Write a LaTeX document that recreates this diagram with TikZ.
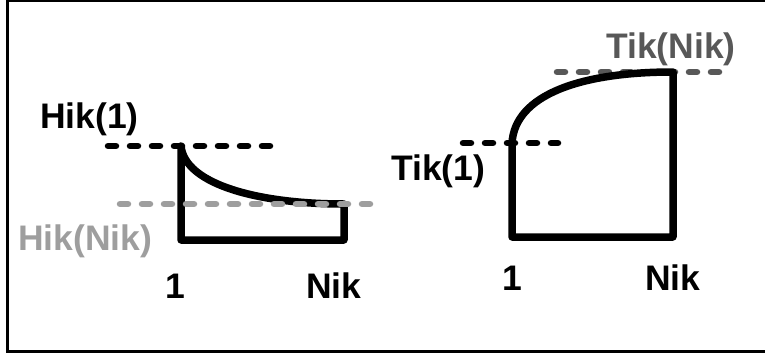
\documentclass[tikz,border=0pt]{standalone}
\usepackage{fontspec}
\setmainfont{Liberation Sans}
\definecolor{lgray}{RGB}{158,158,158}
\definecolor{dgray}{RGB}{88,88,88}
\begin{document}
\begin{tikzpicture}[x=1pt,y=-1pt,
  lbl/.style={inner sep=0pt,font=\fontsize{35.5}{42}\selectfont\bfseries},
  curvebox/.style={line width=7.5pt,line join=round,line cap=round},
  dline/.style={line width=6.5pt,line cap=round,dash pattern=on 8pt off 14pt}]
\useasboundingbox (0,0) rectangle (765,356);
% frame
\draw[line width=3pt] (7,0) -- (7,351) -- (770,351);
\draw[line width=1.5pt] (7,0.8) -- (770,0.8);

% left diagram
\coordinate (hl1) at (108,146);
\coordinate (hl2) at (272,146);
\coordinate (gl1) at (120,204);
\coordinate (gl2) at (381,204);
\coordinate (a) at (181,146);
\coordinate (b) at (181,240);
\coordinate (c) at (344,240);
\coordinate (d) at (344,204);
\draw[dline] (hl1) -- (hl2);
\draw[curvebox] (d) -- (c) -- (b) -- (a) .. controls (185,185) and (260,204) .. (d);
\draw[dline,lgray] (gl1) -- (gl2);
\node[lbl,anchor=base west] (h1) at (40,128) {Hik(1)};
\node[lbl,anchor=base west,lgray] (hn) at (18,250) {Hik(Nik)};
\node[lbl,anchor=base] (one1) at (175,298) {1};
\node[lbl,anchor=base west] (nik1) at (306,298) {Nik};

% right diagram
\coordinate (tl1) at (463,143);
\coordinate (tl2) at (558,143);
\coordinate (ul1) at (557,72);
\coordinate (ul2) at (727,72);
\coordinate (e) at (512,143);
\coordinate (f) at (512,237);
\coordinate (g) at (673,237);
\coordinate (h) at (673,72);
\draw[dline] (tl1) -- (tl2);
\draw[dline,dgray] (ul1) -- (ul2);
\draw[curvebox] (h) -- (g) -- (f) -- (e) .. controls (515,95) and (580,72) .. (h);
\node[lbl,anchor=base west] (t1) at (391,180) {Tik(1)};
\node[lbl,anchor=base west,dgray] (tn) at (606,58) {Tik(Nik)};
\node[lbl,anchor=base] (one2) at (512,290) {1};
\node[lbl,anchor=base west] (nik2) at (645,290) {Nik};
\end{tikzpicture}
\end{document}
